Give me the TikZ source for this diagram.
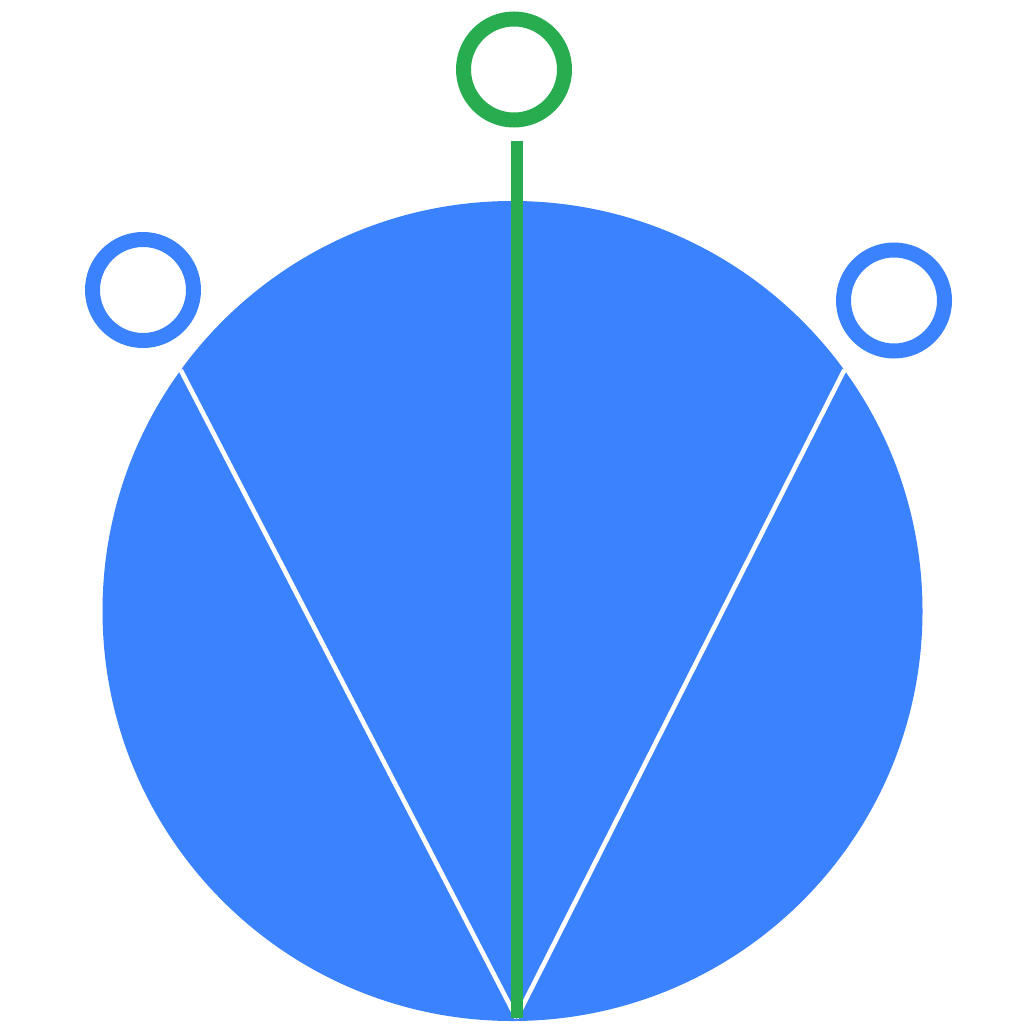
\documentclass[tikz,border=0pt]{standalone}
\definecolor{cblue}{RGB}{59,130,255}
\definecolor{cgreen}{RGB}{40,172,80}
\tikzset{
  ring/.style={circle, draw=#1, line width=15pt, inner sep=0pt, minimum size=101pt},
  split/.style={draw=white, line width=4.6pt},
  stem/.style={draw=cgreen, line width=12pt}
}
\begin{document}
\begin{tikzpicture}[x=1pt,y=-1pt]
\useasboundingbox (0,0) rectangle (1024,1024);
\node[circle, fill=cblue, inner sep=0pt, minimum size=820pt] (big) at (512.5,611) {};
\coordinate (bot) at (516.5,1018);
\coordinate (lt) at (big.144);
\coordinate (rt) at (big.36);
\draw[split] (bot) -- (lt);
\draw[split] (bot) -- (rt);
\coordinate (stemtop) at (517,141);
\coordinate (stembot) at (517,1018);
\draw[stem] (stemtop) -- (stembot);
\node[ring=cgreen] (gr) at (514,69.5) {};
\node[ring=cblue] (bl) at (143,290) {};
\node[ring=cblue] (br) at (894,300.5) {};
\end{tikzpicture}
\end{document}
